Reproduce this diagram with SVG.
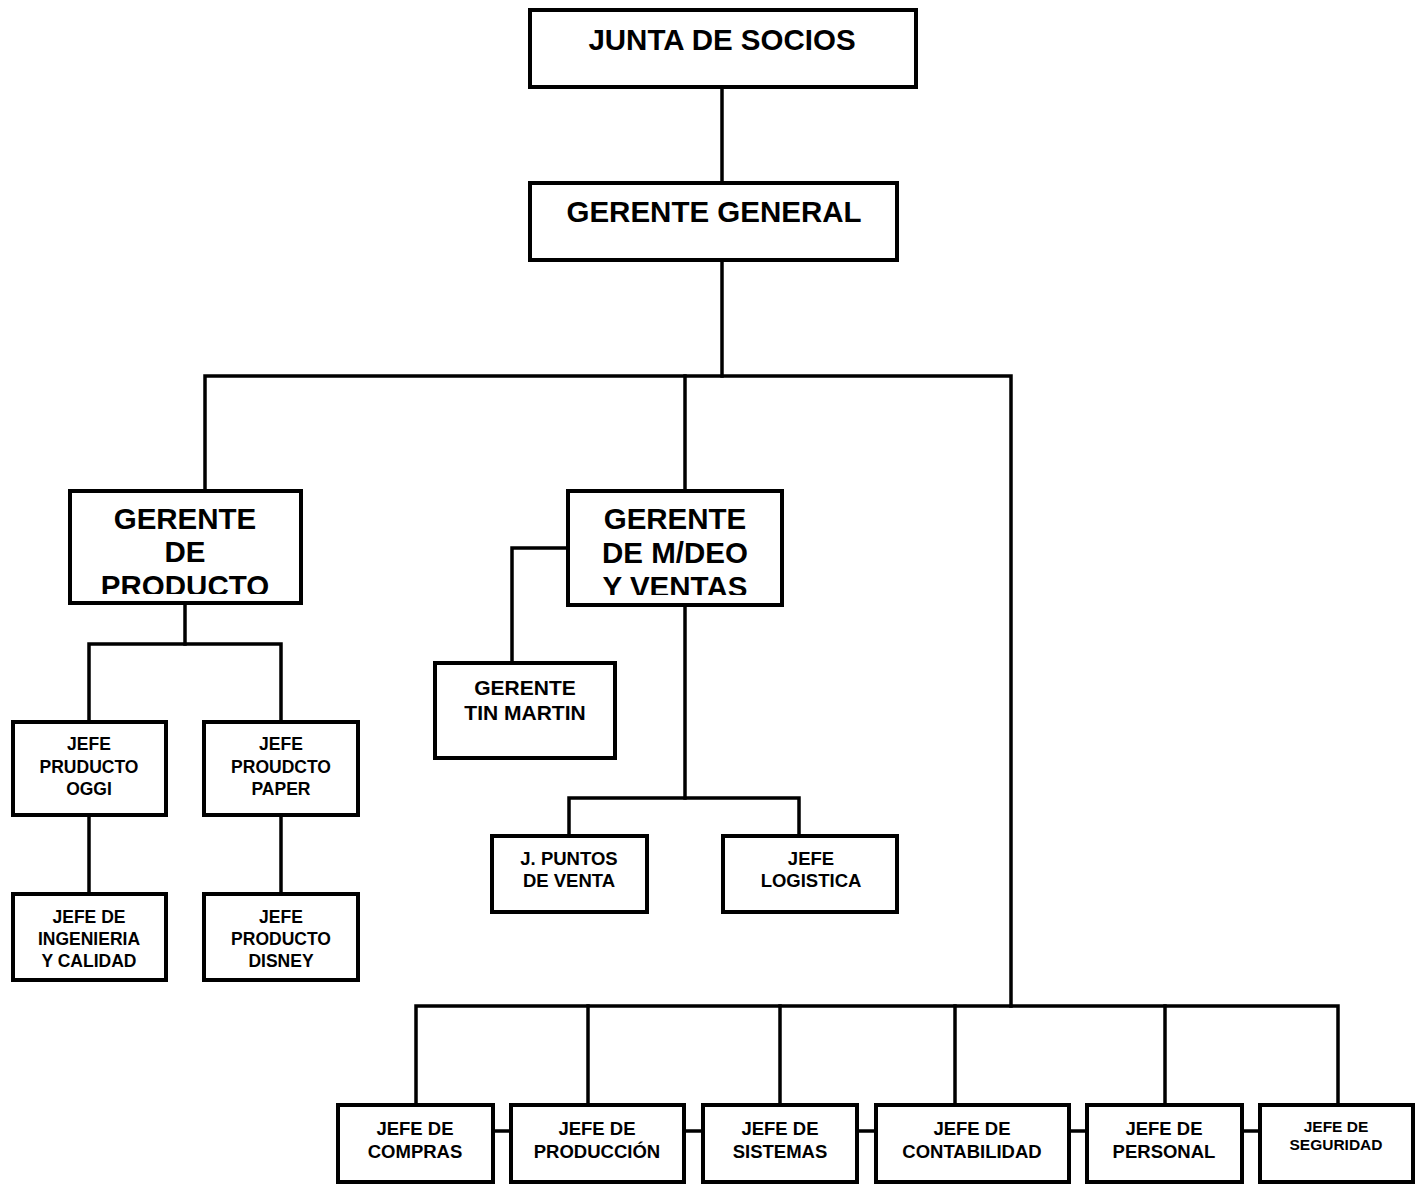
<svg xmlns="http://www.w3.org/2000/svg" width="1421" height="1184" viewBox="0 0 1421 1184">
  <style>
    .box { fill: #ffffff; stroke: #000000; stroke-width: 4; }
    .wire { fill: none; stroke: #000000; stroke-width: 3.5; stroke-linejoin: miter; stroke-linecap: square; }
    text { font-family: "Liberation Sans", Arial, sans-serif; font-weight: bold; fill: #000000; text-anchor: middle; }
    .t28 { font-size: 29.5px; }
    .t28b { font-size: 29.5px; }
    .t19 { font-size: 21px; }
    .t18 { font-size: 18.5px; }
    .t17 { font-size: 17.5px; }
    .t15 { font-size: 15.5px; }
  </style>
  <defs>
    <clipPath id="clipProducto"><rect x="72" y="493" width="227" height="101"/></clipPath>
    <clipPath id="clipVentas"><rect x="570" y="493" width="210" height="102"/></clipPath>
  </defs>
  <rect width="1421" height="1184" fill="#ffffff"/>

  <g id="connectors">
    <path class="wire" d="M722 87 V183"/>
    <path class="wire" d="M722 260 V376"/>
    <path class="wire" d="M205 491 V376 H1011 V1006"/>
    <path class="wire" d="M685 376 V491"/>
    <path class="wire" d="M185 603 V644"/>
    <path class="wire" d="M89 722 V644 H281 V722"/>
    <path class="wire" d="M89 815 V894"/>
    <path class="wire" d="M281 815 V894"/>
    <path class="wire" d="M568 548 H512 V663"/>
    <path class="wire" d="M685 605 V798"/>
    <path class="wire" d="M569 836 V798 H799 V836"/>
    <path class="wire" d="M416 1105 V1006 H1338 V1105"/>
    <path class="wire" d="M588 1006 V1105"/>
    <path class="wire" d="M780 1006 V1105"/>
    <path class="wire" d="M955 1006 V1105"/>
    <path class="wire" d="M1165 1006 V1105"/>
    <path class="wire" d="M493 1131 H511"/>
    <path class="wire" d="M684 1131 H703"/>
    <path class="wire" d="M857 1131 H876"/>
    <path class="wire" d="M1069 1131 H1087"/>
    <path class="wire" d="M1242 1131 H1260"/>
  </g>

  <g id="junta-de-socios">
    <rect class="box" x="530" y="10" width="386" height="77"/>
    <text class="t28" x="722" y="50">JUNTA DE SOCIOS</text>
  </g>

  <g id="gerente-general">
    <rect class="box" x="530" y="183" width="367" height="77"/>
    <text class="t28" x="714" y="222">GERENTE GENERAL</text>
  </g>

  <g id="gerente-de-producto">
    <rect class="box" x="70" y="491" width="231" height="112"/>
    <g clip-path="url(#clipProducto)">
      <text class="t28b" x="185" y="529">GERENTE</text>
      <text class="t28b" x="185" y="562">DE</text>
      <text class="t28b" x="185" y="596">PRODUCTO</text>
    </g>
  </g>

  <g id="gerente-mdeo-ventas">
    <rect class="box" x="568" y="491" width="214" height="114"/>
    <g clip-path="url(#clipVentas)">
      <text class="t28b" x="675" y="529">GERENTE</text>
      <text class="t28b" x="675" y="563">DE M/DEO</text>
      <text class="t28b" x="675" y="597">Y VENTAS</text>
    </g>
  </g>

  <g id="gerente-tin-martin">
    <rect class="box" x="435" y="663" width="180" height="95"/>
    <text class="t19" x="525" y="695">GERENTE</text>
    <text class="t19" x="525" y="720">TIN MARTIN</text>
  </g>

  <g id="jefe-producto-oggi">
    <rect class="box" x="13" y="722" width="153" height="93"/>
    <text class="t17" x="89" y="750">JEFE</text>
    <text class="t17" x="89" y="773">PRUDUCTO</text>
    <text class="t17" x="89" y="795">OGGI</text>
  </g>

  <g id="jefe-producto-paper">
    <rect class="box" x="204" y="722" width="154" height="93"/>
    <text class="t17" x="281" y="750">JEFE</text>
    <text class="t17" x="281" y="773">PROUDCTO</text>
    <text class="t17" x="281" y="795">PAPER</text>
  </g>

  <g id="jefe-ingenieria-calidad">
    <rect class="box" x="13" y="894" width="153" height="86"/>
    <text class="t17" x="89" y="923">JEFE DE</text>
    <text class="t17" x="89" y="945">INGENIERIA</text>
    <text class="t17" x="89" y="967">Y CALIDAD</text>
  </g>

  <g id="jefe-producto-disney">
    <rect class="box" x="204" y="894" width="154" height="86"/>
    <text class="t17" x="281" y="923">JEFE</text>
    <text class="t17" x="281" y="945">PRODUCTO</text>
    <text class="t17" x="281" y="967">DISNEY</text>
  </g>

  <g id="jefe-puntos-venta">
    <rect class="box" x="492" y="836" width="155" height="76"/>
    <text class="t18" x="569" y="865">J. PUNTOS</text>
    <text class="t18" x="569" y="887">DE VENTA</text>
  </g>

  <g id="jefe-logistica">
    <rect class="box" x="723" y="836" width="174" height="76"/>
    <text class="t18" x="811" y="865">JEFE</text>
    <text class="t18" x="811" y="887">LOGISTICA</text>
  </g>

  <g id="jefe-compras">
    <rect class="box" x="338" y="1105" width="155" height="77"/>
    <text class="t18" x="415" y="1135">JEFE DE</text>
    <text class="t18" x="415" y="1158">COMPRAS</text>
  </g>

  <g id="jefe-produccion">
    <rect class="box" x="511" y="1105" width="173" height="77"/>
    <text class="t18" x="597" y="1135">JEFE DE</text>
    <text class="t18" x="597" y="1158">PRODUCCIÓN</text>
  </g>

  <g id="jefe-sistemas">
    <rect class="box" x="703" y="1105" width="154" height="77"/>
    <text class="t18" x="780" y="1135">JEFE DE</text>
    <text class="t18" x="780" y="1158">SISTEMAS</text>
  </g>

  <g id="jefe-contabilidad">
    <rect class="box" x="876" y="1105" width="193" height="77"/>
    <text class="t18" x="972" y="1135">JEFE DE</text>
    <text class="t18" x="972" y="1158">CONTABILIDAD</text>
  </g>

  <g id="jefe-personal">
    <rect class="box" x="1087" y="1105" width="155" height="77"/>
    <text class="t18" x="1164" y="1135">JEFE DE</text>
    <text class="t18" x="1164" y="1158">PERSONAL</text>
  </g>

  <g id="jefe-seguridad">
    <rect class="box" x="1260" y="1105" width="153" height="77"/>
    <text class="t15" x="1336" y="1132">JEFE DE</text>
    <text class="t15" x="1336" y="1150">SEGURIDAD</text>
  </g>
</svg>
